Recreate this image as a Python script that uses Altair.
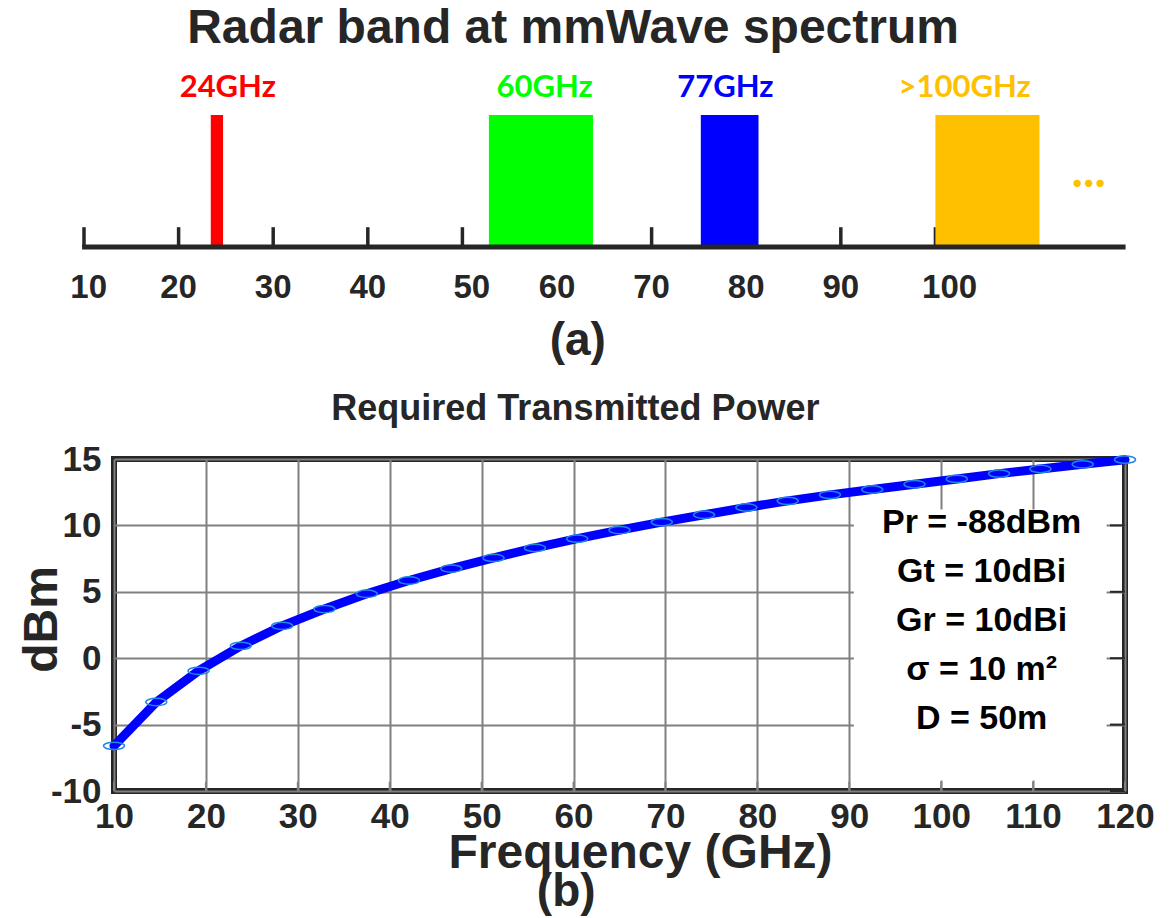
import altair as alt
import pandas as pd

# ---------------- panel (a): radar bands ----------------
band_labels = ["24GHz", "60GHz", "77GHz", ">100GHz"]
band_start = [23.4, 52.8, 75.2, 100.0]
band_end = [24.7, 63.8, 81.3, 111.0]
band_label_x = [25.2, 58.7, 77.8, 103.1]
band_colors = ["#FF0000", "#00FF00", "#0000FF", "#FFC000"]

spec_ticks = [10, 20, 30, 40, 50, 60, 70, 80, 90, 100]
spec_tick_labels = ["10", "20", "30", "40", "50", "60", "70", "80", "90", "100"]
spec_tick_label_x = [10.5, 20, 30, 40, 51, 60, 70, 80, 90, 101.5]

# ---------------- panel (b): required transmitted power ----------------
freq = [10, 14.6, 19.2, 23.8, 28.3, 32.9, 37.5, 42.1, 46.7, 51.3, 55.8, 60.4, 65.0,
        69.6, 74.2, 78.8, 83.3, 87.9, 92.5, 97.1, 101.7, 106.3, 110.8, 115.4, 120]
power = [-6.6, -3.3, -0.95, 0.93, 2.44, 3.70, 4.85, 5.85, 6.75, 7.55, 8.3, 9.0, 9.65,
         10.25, 10.8, 11.35, 11.85, 12.3, 12.7, 13.1, 13.5, 13.9, 14.25, 14.6, 14.95]
params = ["Pr = -88dBm", "Gt = 10dBi", "Gr = 10dBi", "σ = 10 m²", "D = 50m"]
x_ticks = [10, 20, 30, 40, 50, 60, 70, 80, 90, 100, 110, 120]
y_ticks = [-10, -5, 0, 5, 10, 15]

DARK = "#262626"
FONT = "Liberation Sans"

# ======== top chart ========
xs_top = alt.Scale(domain=[13.171, 120.04], nice=False, zero=False)
ys_top = alt.Scale(domain=[0, 1], nice=False, zero=False)

bands = pd.DataFrame({"label": band_labels, "start": band_start, "end": band_end,
                      "lx": band_label_x, "color": band_colors})
ticks_top = pd.DataFrame({"t": spec_ticks, "lab": spec_tick_labels, "lx": spec_tick_label_x})
one = pd.DataFrame({"k": [0]})

top_ticks = alt.Chart(ticks_top).mark_rule(color=DARK, strokeWidth=3.5).encode(
    x=alt.X("t:Q", scale=xs_top, axis=None),
    y=alt.Y(datum=0, type="quantitative", scale=ys_top, axis=None),
    y2=alt.datum(0.15),
)
top_bars = alt.Chart(bands).mark_rect().encode(
    x=alt.X("start:Q", scale=xs_top, axis=None),
    x2="end:Q",
    y=alt.Y(datum=0, type="quantitative", scale=ys_top, axis=None),
    y2=alt.datum(1),
    color=alt.Color("color:N", scale=None),
)
top_axis = alt.Chart(one).mark_rule(color=DARK, strokeWidth=5).encode(
    x=alt.X(datum=9.8, type="quantitative", scale=xs_top, axis=None),
    x2=alt.datum(120.1),
    y=alt.Y(datum=0, type="quantitative", scale=ys_top, axis=None),
)
top_tick_labels = alt.Chart(ticks_top).mark_text(
    font=FONT, fontSize=33, fontWeight="bold", color=DARK, baseline="middle"
).encode(
    x=alt.X("lx:Q", scale=xs_top, axis=None),
    y=alt.Y(datum=-0.31, type="quantitative", scale=ys_top, axis=None),
    text="lab:N",
)
top_band_labels = alt.Chart(bands).mark_text(
    font="Lato", fontSize=31, fontWeight="bold", baseline="middle"
).encode(
    x=alt.X("lx:Q", scale=xs_top, axis=None),
    y=alt.Y(datum=1.2045, type="quantitative", scale=ys_top, axis=None),
    text="label:N",
    color=alt.Color("color:N", scale=None),
)
top_dots = alt.Chart(one).mark_text(
    text="...", font="Lato", fontSize=48, fontWeight="bold", color="#FFC000",
    baseline="alphabetic"
).encode(
    x=alt.X(datum=116.2, type="quantitative", scale=xs_top, axis=None),
    y=alt.Y(datum=0.4545, type="quantitative", scale=ys_top, axis=None),
)
top_title = alt.Chart(one).mark_text(
    text="Radar band at mmWave spectrum", font=FONT, fontSize=48, fontWeight="bold",
    color=DARK, baseline="middle"
).encode(
    x=alt.X(datum=61.7, type="quantitative", scale=xs_top, axis=None),
    y=alt.Y(datum=1.65, type="quantitative", scale=ys_top, axis=None),
)
top_a = alt.Chart(one).mark_text(
    text="(a)", font=FONT, fontSize=46, fontWeight="bold", color=DARK, baseline="middle"
).encode(
    x=alt.X(datum=62.2, type="quantitative", scale=xs_top, axis=None),
    y=alt.Y(datum=-0.712, type="quantitative", scale=ys_top, axis=None),
)

top = alt.layer(top_ticks, top_bars, top_axis, top_tick_labels, top_band_labels,
                top_dots, top_title, top_a).properties(
    width=1011, height=132,
    view=alt.ViewBackground(stroke="transparent"),
)

# ======== bottom chart ========
xs = alt.Scale(domain=[10, 120], nice=False, zero=False)
ys = alt.Scale(domain=[-10, 15], nice=False, zero=False)

curve = pd.DataFrame({"f": freq, "p": power})
ptab = pd.DataFrame({"txt": params, "py": [10.2 - 3.69 * i for i in range(len(params))]})
xt = pd.DataFrame({"t": x_ticks})
yt = pd.DataFrame({"t": y_ticks})

x_axis = alt.Axis(
    values=x_ticks, grid=True, gridColor="#808080", gridWidth=2, gridOpacity=1,
    ticks=False, domain=False, labelFont=FONT, labelFontSize=35, labelFontWeight="bold",
    labelColor=DARK, labelPadding=8, labelFlush=False, labelOverlap=False,
    title="Frequency (GHz)", titleFont=FONT, titleFontSize=48, titleFontWeight="bold",
    titleColor=DARK, titleX=526, titleY=62, titleBaseline="middle", titleAlign="center",
)
y_axis = alt.Axis(
    values=y_ticks, grid=True, gridColor="#808080", gridWidth=2, gridOpacity=1,
    ticks=False, domain=False, labelFont=FONT, labelFontSize=35, labelFontWeight="bold",
    labelColor=DARK, labelPadding=13, labelFlush=False, labelOverlap=False,
    labelExpr="'' + datum.value",
    title="dBm", titleFont=FONT, titleFontSize=48, titleFontWeight="bold",
    titleColor=DARK, titleX=-72, titleY=160, titleBaseline="middle", titleAlign="center",
    titleAngle=270,
)

box = alt.Chart(one).mark_rect(fill="white").encode(
    x=alt.X(datum=90.5, type="quantitative", scale=xs, axis=x_axis),
    x2=alt.datum(118.0),
    y=alt.Y(datum=-9.2, type="quantitative", scale=ys, axis=y_axis),
    y2=alt.datum(11.2),
)
right_ticks = alt.Chart(yt).mark_rule(color=DARK, strokeWidth=2).encode(
    x=alt.X(datum=118.37, type="quantitative", scale=xs),
    x2=alt.datum(120),
    y=alt.Y("t:Q", scale=ys),
)
bottom_ticks = alt.Chart(xt).mark_rule(color="#808080", strokeWidth=2).encode(
    x=alt.X("t:Q", scale=xs),
    y=alt.Y(datum=-10, type="quantitative", scale=ys),
    y2=alt.datum(-9.3),
)
line = alt.Chart(curve).mark_line(color="#0000FF", strokeWidth=9, strokeCap="round").encode(
    x=alt.X("f:Q", scale=xs),
    y=alt.Y("p:Q", scale=ys),
)
ellipse = "M -1 0 A 1 0.35 0 1 1 1 0 A 1 0.35 0 1 1 -1 0 Z"
pts = alt.Chart(curve).mark_point(
    shape=ellipse, size=440, filled=False, stroke="#1E88E5", strokeWidth=1.5, opacity=1
).encode(
    x=alt.X("f:Q", scale=xs),
    y=alt.Y("p:Q", scale=ys),
)
ptext = alt.Chart(ptab).mark_text(
    font=FONT, fontSize=34, fontWeight="bold", color="#000000", baseline="middle"
).encode(
    x=alt.X(datum=104.4, type="quantitative", scale=xs),
    y=alt.Y("py:Q", scale=ys),
    text="txt:N",
)
btitle = alt.Chart(one).mark_text(
    text="Required Transmitted Power", font=FONT, fontSize=36, fontWeight="bold",
    color=DARK, baseline="middle"
).encode(
    x=alt.X(datum=60.2, type="quantitative", scale=xs),
    y=alt.Y(datum=18.8, type="quantitative", scale=ys),
)
b_label = alt.Chart(one).mark_text(
    text="(b)", font=FONT, fontSize=46, fontWeight="bold", color=DARK, baseline="middle"
).encode(
    x=alt.X(datum=59.2, type="quantitative", scale=xs),
    y=alt.Y(datum=-17.6, type="quantitative", scale=ys),
)

bottom = alt.layer(box, right_ticks, bottom_ticks, line, pts, ptext, btitle, b_label).properties(
    width=1011, height=332,
    view=alt.ViewBackground(stroke=DARK, strokeWidth=6),
)

chart = alt.vconcat(top, bottom, spacing=22).properties(
    padding={"left": 15, "top": 4, "right": 5, "bottom": 0},
    background="white",
)

chart.save("out.html", embed_options={"renderer": "svg", "actions": False})
